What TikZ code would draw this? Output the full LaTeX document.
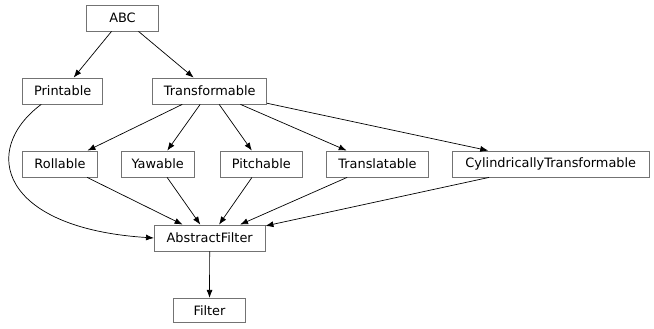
\documentclass[tikz,border=0pt]{standalone}
\usepackage{fontspec}
\setmainfont{DejaVu Sans}
\usetikzlibrary{arrows.meta}
\begin{document}
\begin{tikzpicture}[x=1pt,y=-1pt,
  cls/.style={draw=black!55, line width=0.8pt, fill=white, inner sep=0pt, minimum height=26pt, font=\fontsize{12.9}{15}\selectfont},
  edge/.style={draw=black, line width=0.7pt, -{Latex[length=8pt,width=6pt]}}]
\useasboundingbox (0,0) rectangle (654,329);
\node[cls, minimum width=71.6pt] (abc) at (122.5,18) {ABC};
\node[cls, minimum width=80pt] (prt) at (62.7,91) {Printable};
\node[cls, minimum width=114pt] (trf) at (209.7,91) {Transformable};
\node[cls, minimum width=75pt] (rol) at (60,164) {Rollable};
\node[cls, minimum width=73.3pt] (yaw) at (157.7,164) {Yawable};
\node[cls, minimum width=82.7pt] (pit) at (261.3,164) {Pitchable};
\node[cls, minimum width=101.6pt] (tra) at (377.5,164) {Translatable};
\node[cls, minimum width=196.3pt] (cyl) at (550.8,164) {CylindricallyTransformable};
\node[cls, minimum width=110.7pt] (af) at (209.7,238) {AbstractFilter};
\node[cls, minimum width=72.4pt, minimum height=24.4pt] (fil) at (209.5,310.5) {Filter};
\draw[edge] (abc) -- (prt);
\draw[edge] (abc) -- (trf);
\draw[edge] (trf) -- (rol);
\draw[edge] (trf) -- (yaw);
\draw[edge] (trf) -- (pit);
\draw[edge] (trf) -- (tra);
\draw[edge] (trf) -- (cyl);
\draw[edge] (rol) -- (af);
\draw[edge] (yaw) -- (af);
\draw[edge] (pit) -- (af);
\draw[edge] (tra) -- (af);
\draw[edge] (cyl) -- (af);
\draw[edge] (prt.212) .. controls (-20,150) and (0,228) .. (af.west);
\draw[edge] (af) -- (fil);
\end{tikzpicture}
\end{document}
